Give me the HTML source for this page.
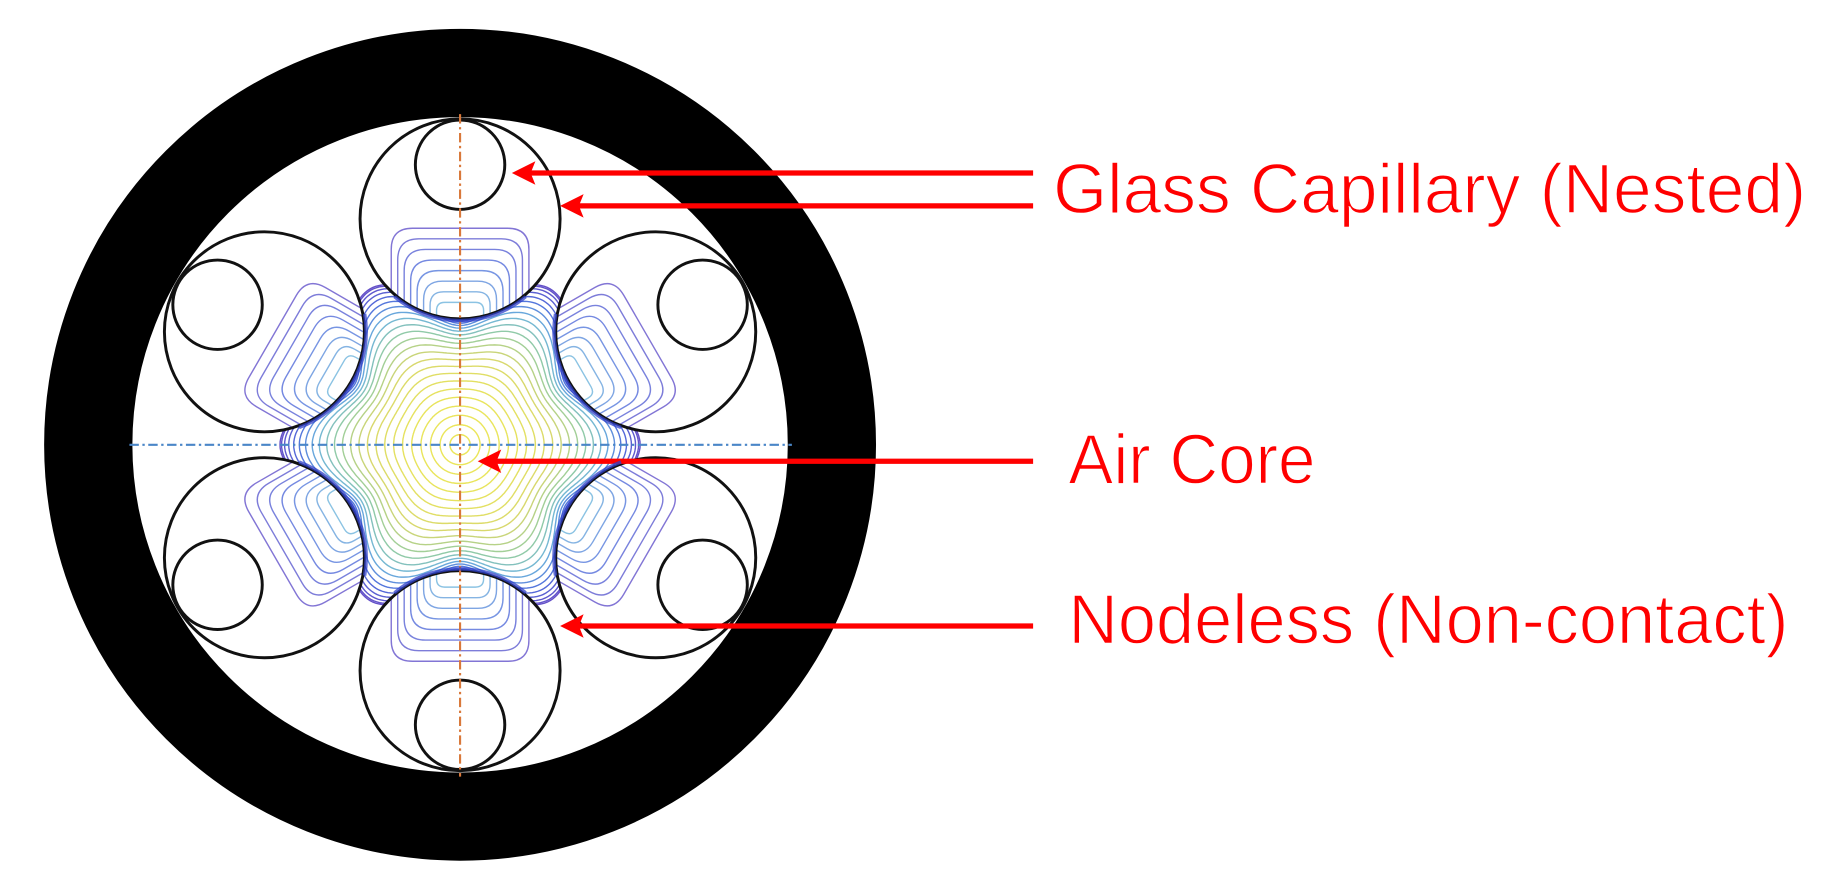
<!DOCTYPE html>
<html><head><meta charset="utf-8"><style>
html,body{margin:0;padding:0;background:#fff;width:1845px;height:888px;overflow:hidden}
svg{display:block}
</style></head><body>
<svg id="s" width="1845" height="888" viewBox="0 0 1568 754.7" preserveAspectRatio="none" xmlns="http://www.w3.org/2000/svg">
<defs>
<mask id="m"><rect x="0" y="0" width="1568" height="755" fill="#fff"/><g id="mc"></g></mask>
</defs>
<circle cx="391" cy="378" r="316" fill="none" stroke="#000" stroke-width="75"/>
<g id="core" mask="url(#m)"></g>
<g id="lobes"></g>
<g id="caps" fill="none" stroke="#111" stroke-width="2.5"></g>
<line x1="391" y1="97" x2="391" y2="660" stroke="#d9783a" stroke-width="1.8" stroke-dasharray="8,3,2,3"/>
<line x1="110" y1="378" x2="673" y2="378" stroke="#4a86c8" stroke-width="1.8" stroke-dasharray="8,3,2,3"/>
<g stroke="#ff0000" stroke-width="4.5" fill="none">
<line x1="878" y1="147" x2="445" y2="147"/>
<line x1="878" y1="175" x2="486" y2="175"/>
<line x1="878" y1="392" x2="416" y2="392"/>
<line x1="878" y1="532" x2="486" y2="532"/>
</g>
<g fill="#ff0000">
<polygon points="435,147 455,137 451,147 455,157"/>
<polygon points="476,175 496,165 492,175 496,185"/>
<polygon points="406,392 426,382 422,392 426,402"/>
<polygon points="476,532 496,522 492,532 496,542"/>
</g>
<g fill="#ff0000" stroke="#fff" stroke-width="1.2" paint-order="normal" font-family="'Liberation Sans',sans-serif" font-size="60">
<text x="895" y="181" textLength="640" lengthAdjust="spacingAndGlyphs">Glass Capillary (Nested)</text>
<text x="908" y="411" textLength="210" lengthAdjust="spacingAndGlyphs">Air Core</text>
<text x="908" y="547" textLength="612" lengthAdjust="spacingAndGlyphs">Nodeless (Non-contact)</text>
</g>
</svg>
<script>
var NS="http://www.w3.org/2000/svg",cx=391,cy=378,D=192,R=85,r2=38;
function el(t,a,p){var e=document.createElementNS(NS,t);for(var k in a)e.setAttribute(k,a[k]);p.appendChild(e);return e;}
var caps=document.getElementById('caps'),mc=document.getElementById('mc'),lobes=document.getElementById('lobes'),core=document.getElementById('core');
function col(t){
 var stops=[[235,230,90],[215,215,110],[150,205,160],[110,180,220],[80,110,220],[100,80,200]];
 var f=Math.max(0,Math.min(1,t))*(stops.length-1),i=Math.min(Math.floor(f),stops.length-2),u=f-i;
 var a=stops[i],b=stops[i+1];return 'rgb('+[0,1,2].map(function(k){return Math.round(a[k]+(b[k]-a[k])*u)}).join(',')+')';}
for(var i=0;i<6;i++){
 var ang=Math.PI/2+i*Math.PI/3,x=cx+D*Math.cos(ang),y=cy-D*Math.sin(ang);
 var x2=cx+(D+46)*Math.cos(ang),y2=cy-(D+46)*Math.sin(ang);
 el('circle',{cx:x,cy:y,r:R},caps);el('circle',{cx:x2,cy:y2,r:r2},caps);
 el('circle',{cx:x,cy:y,r:R},mc).setAttribute('fill','#000');
 var g=el('g',{transform:'translate('+x+','+y+') rotate('+(-(ang*180/Math.PI)+90)+')'},lobes);
 for(var k=0;k<8;k++){
  var h=14+k*9,w=20+k*5.5;
  var yb=Math.sqrt(Math.max(0,R*R-w*w));
  var rc=Math.min(18,h*0.5);
  var d='M'+(-w)+','+yb+' L'+(-w)+','+(R-h+rc)+' Q'+(-w)+','+(R-h)+' '+(-w+rc)+','+(R-h)+' L'+(w-rc)+','+(R-h)+' Q'+w+','+(R-h)+' '+w+','+(R-h+rc)+' L'+w+','+yb;
  el('path',{d:d,fill:'none',stroke:col(0.6+k*0.055),'stroke-width':1.2,opacity:0.8},g);
 }
}
var N=24;
for(var k=1;k<=N;k++){
 var s=1-Math.pow(1-k/N,1.6), pts=[];
 for(var j=0;j<=360;j++){
  var th=j*Math.PI/180;
  var base=128+22*Math.cos(6*th)*Math.pow(s,2.5);
  var r=s*1.02*base;
  pts.push((cx+r*Math.cos(th)).toFixed(1)+','+(cy-r*Math.sin(th)).toFixed(1));
 }
 el('polyline',{points:pts.join(' '),fill:'none',stroke:col(Math.pow(s,3)*1.0),'stroke-width':1.2},core);
}
for(var i=0;i<6;i++){
 var ang=Math.PI/2+i*Math.PI/3,x=cx+D*Math.cos(ang),y=cy-D*Math.sin(ang);
 var a0=ang+Math.PI-0.7,a1=ang+Math.PI+0.7;
 var p1=[x+(R+1.5)*Math.cos(a0),y-(R+1.5)*Math.sin(a0)],p2=[x+(R+1.5)*Math.cos(a1),y-(R+1.5)*Math.sin(a1)];
 el('path',{d:'M'+p1+' A'+(R+1.5)+','+(R+1.5)+' 0 0 0 '+p2,fill:'none',stroke:'#3040c8','stroke-width':3,opacity:0.75},core.parentNode);
}
</script>
</body></html>
